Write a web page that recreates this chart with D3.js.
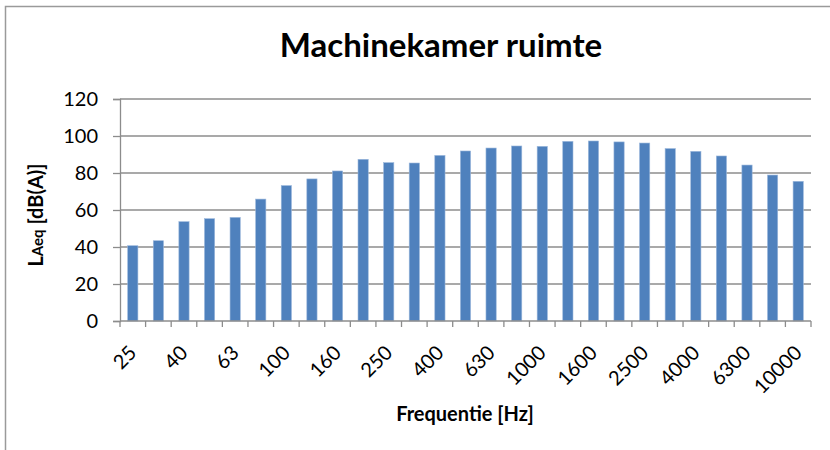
<!DOCTYPE html>
<html>
<head>
<meta charset="utf-8">
<script src="https://cdn.jsdelivr.net/npm/d3@7"></script>
<style>
  html, body { margin: 0; padding: 0; background: #fff; }
  svg { display: block; }
  text { font-family: Lato, "Open Sans", sans-serif; fill: #000; }
</style>
</head>
<body>
<svg id="chart" width="830" height="450"></svg>
<script>
// One-third octave band centre frequencies (Hz)
const bands = ["25","31.5","40","50","63","80","100","125","160","200","250","315","400","500",
               "630","800","1000","1250","1600","2000","2500","3150","4000","5000","6300","8000","10000"];
// A-weighted equivalent sound level per band, dB(A)
const levels = [40.7, 43.4, 53.7, 55.3, 56.0, 65.9, 73.2, 76.8, 81.1, 87.4, 85.6, 85.4, 89.5, 91.9,
                93.5, 94.6, 94.4, 97.1, 97.3, 96.8, 96.2, 93.2, 91.7, 89.2, 84.3, 78.9, 75.5];
const yTicks = [0, 20, 40, 60, 80, 100, 120];
const titleText = "Machinekamer ruimte";
const xTitle = "Frequentie [Hz]";

const svg = d3.select("#chart");
const plot = { left: 120, right: 811, top: 99, bottom: 321 };

// outer chart frame
svg.append("path")
  .attr("d", `M5.5,452 V6.5 H832`)
  .attr("fill", "none").attr("stroke", "#9a9a9a").attr("stroke-width", 1.5);

const x = d3.scaleBand().domain(bands).range([plot.left, plot.right]).paddingInner(0.6).paddingOuter(0.3);
const xCat = d3.scaleBand().domain(bands).range([plot.left, plot.right]);
const y = d3.scaleLinear().domain([0, 120]).range([plot.bottom, plot.top]);

// horizontal gridlines
svg.append("g").selectAll("line").data(yTicks.slice(1)).join("line")
  .attr("x1", plot.left).attr("x2", plot.right)
  .attr("y1", d => y(d)).attr("y2", d => y(d))
  .attr("stroke", "#8c8c8c").attr("stroke-width", 1.3);

// bars
svg.append("g").selectAll("rect").data(levels).join("rect")
  .attr("x", (d, i) => x(bands[i]))
  .attr("width", x.bandwidth())
  .attr("y", d => y(d))
  .attr("height", d => y(0) - y(d))
  .attr("fill", "#4f81bd")
  .attr("stroke", "#9cb8dc").attr("stroke-width", 0.6);

// y axis
const yAxis = svg.append("g").attr("transform", `translate(${plot.left},0)`)
  .call(d3.axisLeft(y).tickValues(yTicks).tickSize(7).tickPadding(15));
yAxis.select(".domain").attr("stroke", "#8c8c8c").attr("stroke-width", 1.3);
yAxis.selectAll(".tick line").attr("stroke", "#8c8c8c").attr("stroke-width", 1.3);
yAxis.selectAll(".tick text").attr("font-size", 20).attr("font-family", "Lato, sans-serif").attr("fill", "#000");

// x axis: ticks at category boundaries
const bounds = bands.map(b => xCat(b)).concat([plot.right]);
const xg = svg.append("g");
xg.append("line").attr("x1", plot.left).attr("x2", plot.right)
  .attr("y1", plot.bottom).attr("y2", plot.bottom)
  .attr("stroke", "#8c8c8c").attr("stroke-width", 1.5);
xg.selectAll("line.tk").data(bounds).join("line").attr("class", "tk")
  .attr("x1", d => d).attr("x2", d => d)
  .attr("y1", plot.bottom).attr("y2", plot.bottom + 6)
  .attr("stroke", "#8c8c8c").attr("stroke-width", 1.3);

// every other band label, rotated
xg.selectAll("text").data(bands.filter((b, i) => i % 2 === 0)).join("text")
  .attr("transform", d => `translate(${xCat(d) + xCat.bandwidth() / 2 + 5},${plot.bottom + 33}) rotate(-45)`)
  .attr("text-anchor", "end")
  .attr("font-size", 20)
  .text(d => d);

// title
svg.append("text").attr("x", 441).attr("y", 57).attr("text-anchor", "middle")
  .attr("font-size", 33).attr("font-weight", "bold").text(titleText);

// x axis title
svg.append("text").attr("x", 465).attr("y", 421).attr("text-anchor", "middle")
  .attr("font-size", 20).attr("font-weight", "bold").text(xTitle);

// y axis title with subscript-style "Aeq"
const yt = svg.append("text")
  .attr("transform", `translate(43,215) rotate(-90)`)
  .attr("text-anchor", "middle").attr("font-size", 20).attr("font-weight", "bold");
yt.append("tspan").text("L");
yt.append("tspan").attr("font-size", 15).text("Aeq");
yt.append("tspan").text(" [dB(A)]");
</script>
</body>
</html>
